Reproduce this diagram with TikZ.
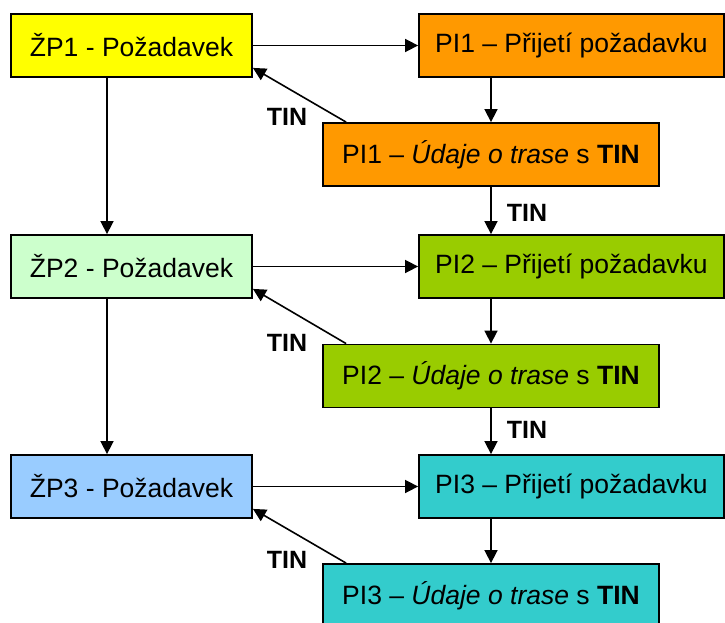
\documentclass[tikz,border=0pt]{standalone}
\usepackage{fontspec}
\setmainfont{Liberation Sans}
\usetikzlibrary{arrows.meta}
\definecolor{zpyellow}{HTML}{FFFF00}
\definecolor{zpgreen}{HTML}{CCFFCC}
\definecolor{zpblue}{HTML}{99CCFF}
\definecolor{piorange}{HTML}{FF9900}
\definecolor{pilime}{HTML}{99CC00}
\definecolor{piteal}{HTML}{33CCCC}
\begin{document}
\begin{tikzpicture}[x=1pt,y=-1pt,
  box/.style={draw=black, line width=1.8pt, minimum height=63pt, inner sep=0pt,
    font=\fontsize{26.5}{30}\selectfont},
  zpbox/.style={box, minimum width=241pt},
  pabox/.style={box, minimum width=305pt},
  pubox/.style={box, minimum width=336pt},
  conn/.style={line width=1.6pt, -{Triangle[length=13pt,width=13pt]}},
  tin/.style={font=\fontsize{25}{28}\selectfont\bfseries, inner sep=0pt}]
\useasboundingbox (0,0) rectangle (725,623);
\clip (0,0) rectangle (725,623);

% requests (left column)
\node[zpbox, fill=zpyellow] (zp1) at (131.5,45.5) {ŽP1 - Požadavek};
\node[zpbox, fill=zpgreen]  (zp2) at (131.5,266.5) {ŽP2 - Požadavek};
\node[zpbox, fill=zpblue]   (zp3) at (131.5,486.5) {ŽP3 - Požadavek};

% acceptance boxes
\node[pabox, fill=piorange] (pa1) at (571.5,45.5) {PI1 – Přijetí požadavku};
\node[pabox, fill=pilime]   (pa2) at (571.5,266.5) {PI2 – Přijetí požadavku};
\node[pabox, fill=piteal]   (pa3) at (571.5,486.5) {PI3 – Přijetí požadavku};

% route data boxes
\node[pubox, fill=piorange] (pu1) at (491,154.5) {PI1 – \textit{Údaje o trase} s \textbf{TIN}};
\node[pubox, fill=pilime]   (pu2) at (491,376) {PI2 – \textit{Údaje o trase} s \textbf{TIN}};
\node[pubox, fill=piteal]   (pu3) at (491,595.5) {PI3 – \textit{Údaje o trase} s \textbf{TIN}};

% labels
\node[tin] (tinA) at (287,117) {TIN};
\node[tin] (tinB) at (527,213) {TIN};
\node[tin] (tinC) at (287,343) {TIN};
\node[tin] (tinD) at (527,430) {TIN};
\node[tin] (tinE) at (287,560) {TIN};

% request to acceptance
\draw[conn] (zp1) -- (pa1);
\draw[conn] (zp2) -- (pa2);
\draw[conn] (zp3) -- (pa3);

% request chain
\draw[conn] ([xshift=-24.5pt]zp1.south) -- ([xshift=-24.5pt]zp2.north);
\draw[conn] ([xshift=-24.5pt]zp2.south) -- ([xshift=-24.5pt]zp3.north);

% acceptance to route data
\draw[conn] (pu1.north |- pa1.south) -- (pu1.north);
\draw[conn] (pu2.north |- pa2.south) -- (pu2.north);
\draw[conn] (pu3.north |- pa3.south) -- (pu3.north);

% TIN passed on to the next acceptance
\draw[conn] (pu1.south) -- (pu1.south |- pa2.north);
\draw[conn] (pu2.south) -- (pu2.south |- pa3.north);

% TIN returned to the request
\draw[conn] ([xshift=24pt]pu1.north west) -- ([yshift=10pt]zp1.south east);
\draw[conn] ([xshift=24pt]pu2.north west) -- ([yshift=10pt]zp2.south east);
\draw[conn] ([xshift=24pt]pu3.north west) -- ([yshift=10pt]zp3.south east);
\end{tikzpicture}
\end{document}
